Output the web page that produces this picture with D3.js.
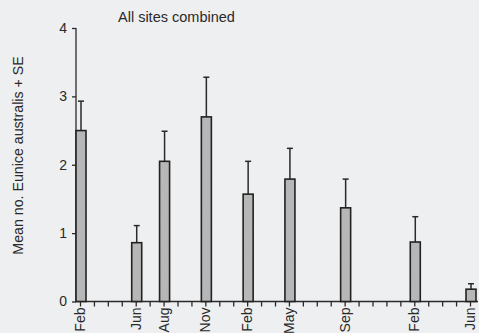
<!DOCTYPE html>
<html>
<head>
<meta charset="utf-8">
<script src="https://cdn.jsdelivr.net/npm/d3@7"></script>
<style>
  html, body { margin: 0; padding: 0; background: #eeeff0; }
  svg { display: block; }
  text { font-family: "Liberation Sans", Arial, sans-serif; fill: #2a2a2a; }
</style>
</head>
<body>
<script>
// Sampling occasions (month offset from the first February survey)
const categories = ["Feb", "Jun", "Aug", "Nov", "Feb", "May", "Sep", "Feb", "Jun"];
const monthOffsets = [0, 4, 6, 9, 12, 15, 19, 24, 28];
// Mean number of Eunice australis per sample and its standard error
const means = [2.50, 0.86, 2.05, 2.70, 1.57, 1.79, 1.37, 0.87, 0.18];
const se = [0.43, 0.25, 0.44, 0.58, 0.48, 0.45, 0.42, 0.37, 0.08];
const yTicks = [0, 1, 2, 3, 4];

const W = 479, H = 333;
const data = categories.map((c, i) => ({ label: c, m: monthOffsets[i], mean: means[i], se: se[i] }));

const svg = d3.select("body").append("svg").attr("width", W).attr("height", H);

// grainy fill for the bars
const defs = svg.append("defs");
const f = defs.append("filter").attr("id", "grain").attr("x", 0).attr("y", 0).attr("width", 1).attr("height", 1);
f.append("feTurbulence").attr("type", "fractalNoise").attr("baseFrequency", "0.9").attr("numOctaves", 2).attr("seed", 3).attr("result", "noise");
f.append("feColorMatrix").attr("in", "noise").attr("type", "matrix")
  .attr("values", "0 0 0 0 0.45  0 0 0 0 0.45  0 0 0 0 0.45  0 0 0 -1.1 0.75").attr("result", "dots");
f.append("feComposite").attr("in", "dots").attr("in2", "SourceGraphic").attr("operator", "in").attr("result", "clipped");
f.append("feMerge").selectAll("feMergeNode").data(["SourceGraphic", "clipped"]).join("feMergeNode").attr("in", d => d);

const x = d3.scaleLinear().domain([0, 28]).range([80, 470]);
const y = d3.scaleLinear().domain([0, 4]).range([301.5, 28]);
const barW = 10;

// y axis
const yAxis = svg.append("g").attr("transform", "translate(76,0)")
  .call(d3.axisLeft(y).tickValues(yTicks).tickSize(4).tickPadding(5).tickFormat(d3.format("d")));
yAxis.select(".domain").attr("d", `M0,${y(4)}V${y(0)}`);

// x axis: one tick per month, labels only on sampled months
const labelAt = new Map(data.map(d => [d.m, d.label]));
const xAxis = svg.append("g").attr("transform", `translate(0,${y(0)})`)
  .call(d3.axisBottom(x).tickValues(d3.range(0, 29)).tickSize(5).tickFormat(m => labelAt.get(m) || ""));
xAxis.select(".domain").attr("d", `M76,0H478`);
xAxis.selectAll(".tick text")
  .attr("transform", "rotate(-90)")
  .attr("text-anchor", "end")
  .attr("x", -6).attr("y", 0).attr("dy", "0.33em");

svg.selectAll(".domain, .tick line").attr("stroke", "#2a2a2a").attr("stroke-width", 1.3);
svg.selectAll(".tick text").style("font-size", "14px").attr("fill", "#2a2a2a");

// error bars (mean + SE)
const err = svg.append("g").attr("stroke", "#2a2a2a").attr("stroke-width", 1.5);
err.selectAll("line.stem").data(data).join("line").attr("class", "stem")
  .attr("x1", d => x(d.m) + 1).attr("x2", d => x(d.m) + 1)
  .attr("y1", d => y(d.mean)).attr("y2", d => y(d.mean + d.se));
err.selectAll("line.cap").data(data).join("line").attr("class", "cap")
  .attr("x1", d => x(d.m) - 2).attr("x2", d => x(d.m) + 4)
  .attr("y1", d => y(d.mean + d.se)).attr("y2", d => y(d.mean + d.se));

// bars
const bars = svg.append("g");
bars.selectAll("rect.fill").data(data).join("rect").attr("class", "fill")
  .attr("x", d => x(d.m) - barW / 2 + 1).attr("width", barW)
  .attr("y", d => y(d.mean)).attr("height", d => y(0) - y(d.mean))
  .attr("fill", "#b8b8b8").attr("filter", "url(#grain)");
bars.selectAll("rect.edge").data(data).join("rect").attr("class", "edge")
  .attr("x", d => x(d.m) - barW / 2 + 1).attr("width", barW)
  .attr("y", d => y(d.mean)).attr("height", d => y(0) - y(d.mean))
  .attr("fill", "none").attr("stroke", "#222").attr("stroke-width", 1.6);

// title
svg.append("text").attr("x", 118).attr("y", 22).style("font-size", "14.5px").text("All sites combined");

// y axis title
svg.append("text")
  .attr("transform", `translate(23,${(56 + 255) / 2}) rotate(-90)`)
  .attr("text-anchor", "middle")
  .style("font-size", "14.2px")
  .text("Mean no. Eunice australis + SE");
</script>
</body>
</html>
